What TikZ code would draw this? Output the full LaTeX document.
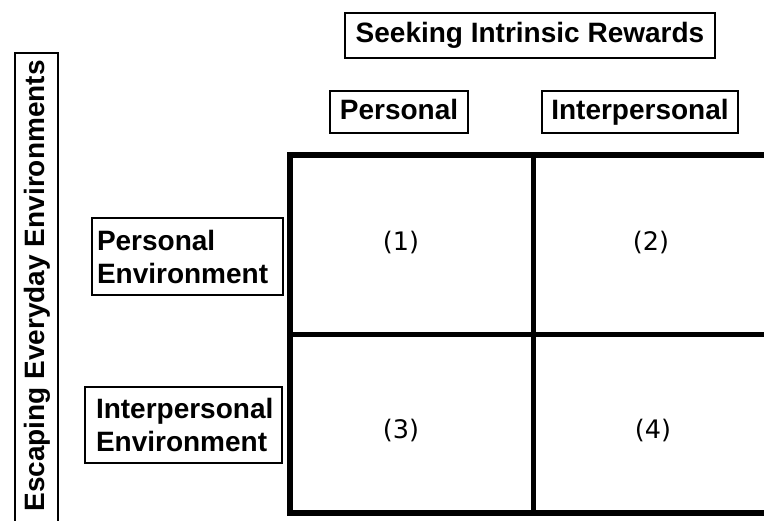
\documentclass[tikz,border=0pt]{standalone}
\usepackage{fontspec}
\setmainfont{Liberation Sans}
\newfontfamily\numfont{DejaVu Sans}
\begin{document}
\begin{tikzpicture}[x=1pt,y=-1pt,
  lbl/.style={draw=black, line width=1.4pt, inner sep=0pt, font=\fontsize{28}{33}\selectfont\bfseries},
  oneline/.style={text height=20pt, text depth=5pt},
  gridline/.style={line width=5pt},
  outer/.style={line width=6pt},
  cellnum/.style={font=\numfont\fontsize{25.5}{30}\selectfont}]
\useasboundingbox (0,0) rectangle (764,521);
\clip (0,0) rectangle (764,521);
% header boxes
\node[lbl, oneline, minimum width=370, minimum height=45] (title) at (530,35.5) {Seeking Intrinsic Rewards};
\node[lbl, oneline, minimum width=138, minimum height=42] (pers) at (399,112) {Personal};
\node[lbl, oneline, minimum width=196, minimum height=42] (inter) at (640,112) {Interpersonal};
% row labels
\node[lbl, text width=181, inner xsep=5pt, minimum height=77, align=left] (penv) at (187.5,256.5) {Personal\\Environment};
\node[lbl, text width=175, inner xsep=11pt, minimum height=76, align=left] (ienv) at (183.5,425) {Interpersonal\\Environment};
% vertical label
\node[draw=black, line width=1.4pt, minimum width=43, minimum height=480, inner sep=0pt] (vbox) at (36.5,293) {};
\node[rotate=90, font=\fontsize{28}{33}\selectfont\bfseries, inner sep=0pt] (vtext) at (37,286) {Escaping Everyday Environments};
% grid
\coordinate (tl) at (290,155.5);
\coordinate (bl) at (290,513);
\coordinate (tr) at (800,155.5);
\coordinate (br) at (800,513);
\coordinate (mt) at (533,155.5);
\coordinate (mb) at (533,513);
\coordinate (ml) at (290,334.5);
\coordinate (mr) at (800,334.5);
\draw[outer, line cap=rect] (tr) -- (tl) -- (bl) -- (br);
\draw[gridline] (mt) -- (mb);
\draw[gridline] (ml) -- (mr);
% cell numbers
\node[cellnum] (c1) at (401,243) {(1)};
\node[cellnum] (c2) at (651,243) {(2)};
\node[cellnum] (c3) at (401,431) {(3)};
\node[cellnum] (c4) at (653,431) {(4)};
\end{tikzpicture}
\end{document}
